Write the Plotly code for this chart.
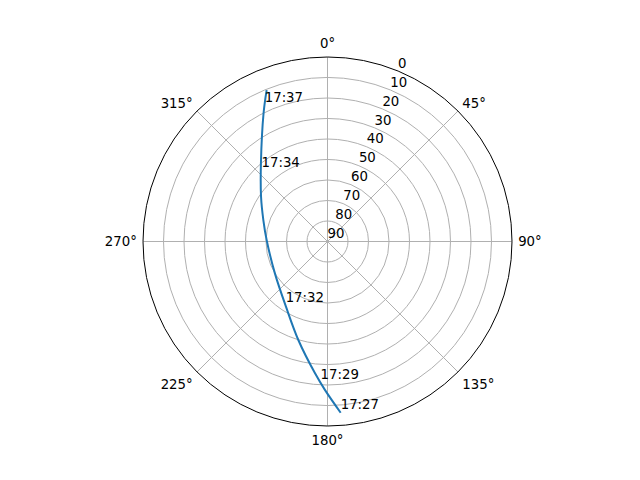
import plotly.graph_objects as go

# Satellite pass: azimuth (deg, clockwise from north) and elevation (deg)
azimuth = [175.6, 181.0, 185.4, 196.5, 212.5, 238.8, 271.4, 288.5, 304.0, 319.6, 333.5, 338.1]
elevation = [6.2, 17.6, 25.4, 39.9, 52.3, 60.0, 60.3, 57.0, 50.9, 39.9, 20.1, 10.4]

label_text = ["17:27", "17:29", "17:32", "17:34", "17:37"]
label_az = [175.6, 182.8, 213.1, 317.0, 335.2]
label_el = [6.2, 21.0, 52.6, 42.8, 17.0]

angle_ticks = [0, 45, 90, 135, 180, 225, 270, 315]
radial_ticks = [0, 10, 20, 30, 40, 50, 60, 70, 80, 90]
radial_label_angle = 22.5

FONT = "DejaVu Sans"
FS = 13.3
PAGE_OFF = 8  # browser body margin around the figure
X0, X1, Y0, Y1 = 143, 512, 57, 426  # polar circle bounding box in page pixels

fig = go.Figure()
fig.add_trace(go.Scatterpolar(
    r=elevation, theta=azimuth, mode="lines",
    line=dict(color="#1f77b4", width=2, shape="spline"),
    showlegend=False, hoverinfo="skip",
))
fig.add_trace(go.Scatterpolar(
    r=label_el, theta=label_az, mode="text", text=label_text,
    textposition="top right",
    textfont=dict(family=FONT, size=FS, color="black"),
    showlegend=False, hoverinfo="skip", cliponaxis=False,
))
# radial tick labels (horizontal, along the 22.5 deg direction)
fig.add_trace(go.Scatterpolar(
    r=radial_ticks, theta=[radial_label_angle] * len(radial_ticks), mode="text",
    text=[str(v) for v in radial_ticks], textposition="top right",
    textfont=dict(family=FONT, size=FS, color="black"),
    showlegend=False, hoverinfo="skip", cliponaxis=False,
))

W, H = 640, 480
fig.update_layout(
    width=W, height=H,
    margin=dict(l=0, r=0, t=0, b=0),
    paper_bgcolor="white",
    font=dict(family=FONT, size=FS, color="black"),
    polar=dict(
        domain=dict(x=[(X0 - PAGE_OFF) / W, (X1 - PAGE_OFF) / W],
                    y=[1 - (Y1 - PAGE_OFF) / H, 1 - (Y0 - PAGE_OFF) / H]),
        bgcolor="white",
        radialaxis=dict(
            range=[90, 0], tickvals=radial_ticks,
            showline=False, ticks="", showticklabels=False,
            gridcolor="#b0b0b0", gridwidth=1,
        ),
        angularaxis=dict(
            rotation=90, direction="clockwise",
            tickvals=angle_ticks, ticktext=[f"{v}°" for v in angle_ticks],
            showline=True, linecolor="black", linewidth=1,
            ticks="outside", ticklen=3, tickcolor="rgba(0,0,0,0)",
            gridcolor="#b0b0b0", gridwidth=1,
            tickfont=dict(family=FONT, size=FS, color="black"),
        ),
    ),
)

fig.write_html("out.html")
